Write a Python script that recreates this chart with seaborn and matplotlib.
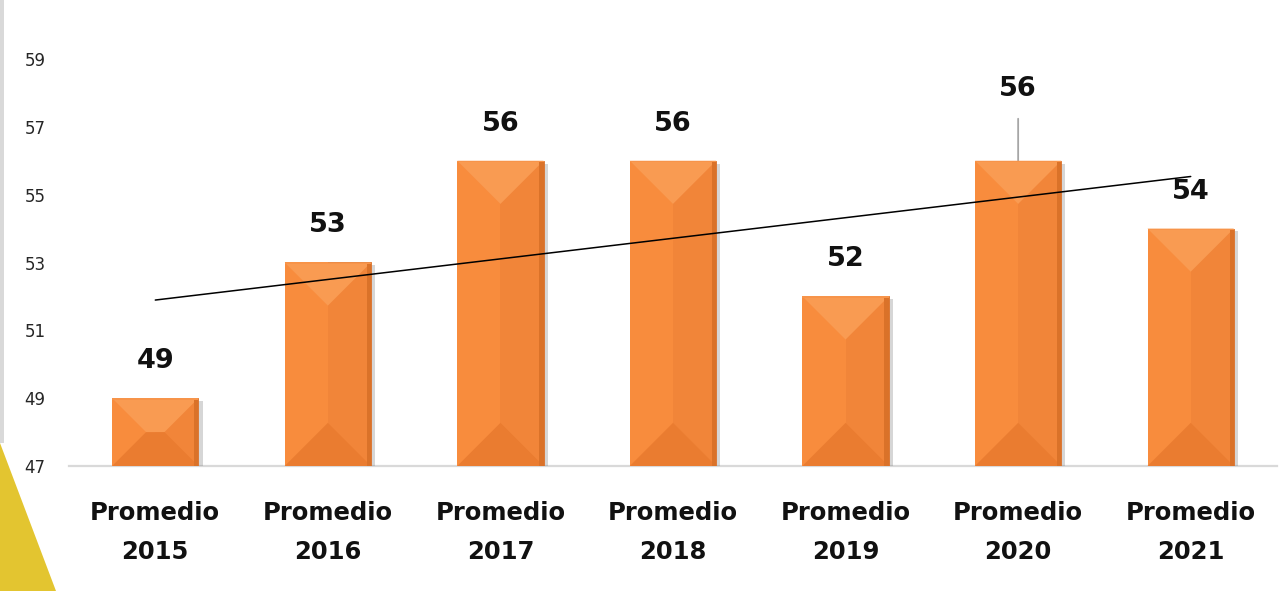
import numpy as np
import pandas as pd
import matplotlib.pyplot as plt
import matplotlib.patheffects as pe
from matplotlib.patches import Polygon, Rectangle
import seaborn as sns

# values
years = ["2015", "2016", "2017", "2018", "2019", "2020", "2021"]
values = [49, 53, 56, 56, 52, 56, 54]
yticks = [47, 49, 51, 53, 55, 57, 59]

df = pd.DataFrame({"periodo": ["Promedio\n" + y for y in years], "valor": values})

sns.set_theme(style="white")
plt.rcParams["font.family"] = ["DejaVu Sans"]

fig = plt.figure(figsize=(12.8, 5.91), dpi=100)
ax = fig.add_axes([69 / 1280, 125 / 591, 1208 / 1280, 407 / 591])

sns.barplot(data=df, x="periodo", y="valor", color="#F18539", width=0.5,
            saturation=1, ax=ax, zorder=2)
ax.set_xlim(-0.5, len(years) - 0.5)
ax.set_ylim(47, 59)

# bevelled look on each bar
px_x = ax.transData.transform((1, 0))[0] - ax.transData.transform((0, 0))[0]
px_y = ax.transData.transform((0, 1))[1] - ax.transData.transform((0, 0))[1]
ybot = ax.get_ylim()[0]
for bar in ax.patches:
    bar.set_path_effects([pe.SimplePatchShadow(offset=(3, -2), shadow_rgbFace="#7a7a7a", alpha=0.3),
                          pe.Normal()])
    bar.set_edgecolor("#D9712A")
    bar.set_linewidth(0.6)
    x0 = bar.get_x()
    w = bar.get_width()
    top = bar.get_height()
    xc = x0 + w / 2
    dy = (w / 2) * px_x / px_y
    ax.add_patch(Polygon([(x0, ybot), (xc, ybot), (xc, top), (x0, top)],
                         closed=True, facecolor="#F88C3D", edgecolor="none", zorder=2.1))
    half = (top - ybot) / 2
    if dy <= half:
        bot_shape = [(x0, ybot), (x0 + w, ybot), (xc, ybot + dy)]
        top_shape = [(x0, top), (x0 + w, top), (xc, top - dy)]
    else:
        dx = half * px_y / px_x
        mid = ybot + half
        bot_shape = [(x0, ybot), (x0 + w, ybot), (x0 + w - dx, mid), (x0 + dx, mid)]
        top_shape = [(x0, top), (x0 + w, top), (x0 + w - dx, mid), (x0 + dx, mid)]
    ax.add_patch(Polygon(bot_shape, closed=True, facecolor="#EA7C30",
                         edgecolor="none", zorder=2.2))
    ax.add_patch(Polygon(top_shape, closed=True, facecolor="#F99B52",
                         edgecolor="none", zorder=2.2))
    ax.add_patch(Rectangle((x0 + w * 0.95, ybot), w * 0.05, top - ybot,
                           facecolor="#DA7229", edgecolor="none", zorder=2.3))
    ax.add_patch(Rectangle((x0, top - 0.05), w, 0.05,
                           facecolor="#F7944A", edgecolor="none", zorder=2.3))

# linear trend line
xs = np.arange(len(values))
slope, intercept = np.polyfit(xs, values, 1)
ax.plot([xs[0], xs[-1]], [intercept, slope * xs[-1] + intercept],
        color="black", lw=1.1, zorder=3)

# value labels
raised = {5: 35}
for i, v in enumerate(values):
    extra = raised.get(i, 0)
    ax.annotate(str(v), (i, v), xytext=(0, (37 + extra) * 0.72), textcoords="offset points",
                ha="center", va="center", fontsize=19.5, fontweight="bold",
                color="#111111", zorder=4)
    if extra:
        ax.annotate("", (i, v), xytext=(0, 42 * 0.72), textcoords="offset points",
                    arrowprops=dict(arrowstyle="-", color="#A6A6A6", lw=1.3,
                                    shrinkA=0, shrinkB=0), zorder=1)

ax.set_yticks(yticks)
ax.set_xlabel("")
ax.set_ylabel("")
ax.tick_params(axis="y", length=0, pad=17, labelsize=12, labelcolor="#262626")
ax.tick_params(axis="x", length=0, pad=25, labelsize=17.5, labelcolor="#111111")
for lab in ax.get_xticklabels():
    lab.set_fontweight("bold")
    lab.set_linespacing(1.8)
for s in ["top", "right", "left"]:
    ax.spines[s].set_visible(False)
ax.spines["bottom"].set_color("#D9D9D9")
ax.spines["bottom"].set_linewidth(1.6)
ax.spines["bottom"].set_zorder(1)
ax.grid(False)

# slide decorations on the left edge
fig.patches.append(Rectangle((0, (591 - 443) / 591), 4 / 1280, 443 / 591,
                             transform=fig.transFigure, facecolor="#D9D9D9",
                             edgecolor="none", zorder=0))
fig.patches.append(Polygon([(0, (591 - 443) / 591), (0, 0), (56 / 1280, 0)],
                           closed=True, transform=fig.transFigure,
                           facecolor="#E3C530", edgecolor="none", zorder=0))

fig.savefig("out.png", dpi=100)
